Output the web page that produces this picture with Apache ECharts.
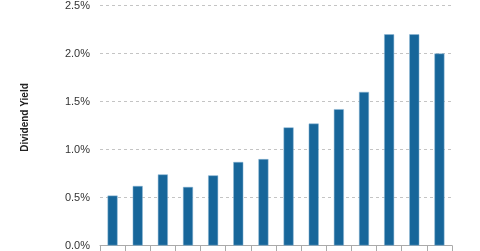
<!DOCTYPE html>
<html><head><meta charset="utf-8">
<script src="https://cdn.jsdelivr.net/npm/echarts@6/dist/echarts.min.js"></script>
<style>html,body{margin:0;padding:0;background:#fff}#c{width:480px;height:251px}</style>
</head><body><div id="c"></div>
<script>
const categories = ["1","2","3","4","5","6","7","8","9","10","11","12","13","14"];
const yieldValues = [0.52, 0.62, 0.74, 0.61, 0.73, 0.87, 0.90, 1.23, 1.27, 1.42, 1.60, 2.20, 2.20, 2.00];
const yTitle = "Dividend Yield";
const chart = echarts.init(document.getElementById('c'), null, {renderer:'canvas'});
chart.setOption({
  animation:false,
  grid:{left:100,right:28,top:4,bottom:5,containLabel:false},
  xAxis:{type:'category',data:categories,
    axisLine:{show:true,lineStyle:{color:'#aaa',width:1}},
    axisTick:{show:true,length:6,lineStyle:{color:'#aaa'}},
    axisLabel:{show:false}},
  yAxis:{type:'value',min:0,max:2.5,interval:0.5,
    name:yTitle,nameLocation:'middle',nameGap:70,
    nameTextStyle:{fontFamily:'Liberation Sans, Arial',fontSize:10,fontWeight:'bold',color:'#222',padding:[0,0,0,16]},
    axisLine:{show:false},axisTick:{show:false},
    axisLabel:{formatter:v=>v.toFixed(1)+'%',fontFamily:'Liberation Sans, Arial',fontSize:11,color:'#333',margin:10},
    splitLine:{show:true,lineStyle:{color:'#c4c4c4',type:[3,3],width:1}}},
  series:[{type:'bar',data:yieldValues,barWidth:10,
    itemStyle:{color:'#17669a',borderColor:'#8fb8d6',borderWidth:0.5}}]
});
</script></body></html>
